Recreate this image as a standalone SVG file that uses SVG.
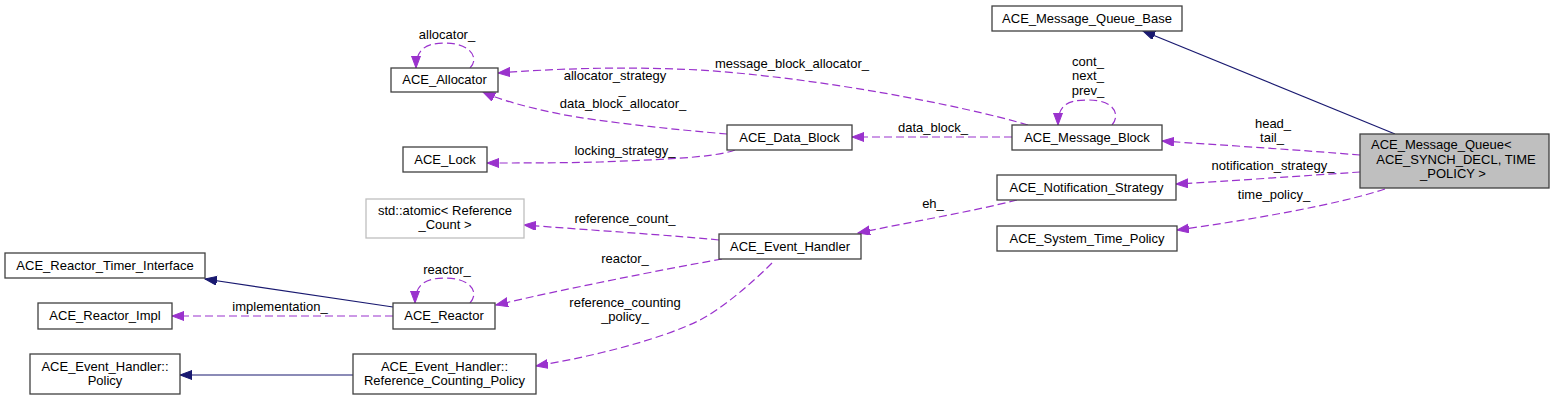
<svg xmlns="http://www.w3.org/2000/svg" width="1555" height="401" viewBox="0 0 1555 401">
<style>
text{font-family:"Liberation Sans",Arial,sans-serif;font-size:13px;fill:#000}
.c{text-anchor:middle}
.n rect{fill:#fff;stroke:#404040;stroke-width:1.3}
.n.g rect{stroke:#bfbfbf}
.n.m rect{fill:#bfbfbf}
.e{fill:none;stroke:#9a32cd;stroke-width:1.2;stroke-dasharray:8,4;marker-end:url(#ap)}
.i{fill:none;stroke:#191970;stroke-width:1.2;marker-end:url(#an)}
</style>
<defs>
<marker id="ap" markerUnits="userSpaceOnUse" markerWidth="13" markerHeight="10" refX="12" refY="4.5" orient="auto" viewBox="0 0 13 10">
<polygon points="0,0 12,4.5 0,9" fill="#9a32cd" stroke="#9a32cd"/>
</marker>
<marker id="an" markerUnits="userSpaceOnUse" markerWidth="13" markerHeight="10" refX="12" refY="4.5" orient="auto" viewBox="0 0 13 10">
<polygon points="0,0 12,4.5 0,9" fill="#191970" stroke="#191970"/>
</marker>
</defs>
<rect width="1555" height="401" fill="#fff"/>
<g id="connectors">
<path class="i" d="M1395,134 L1143,31"/>
<path class="e" d="M1360,155 C1300,150 1220,145 1162,141"/>
<text class="c" x="1273" y="128">head_</text>
<text class="c" x="1272" y="142">tail_</text>
<path class="e" d="M1360,172 C1300,176 1230,181 1176,184"/>
<text class="c" x="1273" y="170">notification_strategy_</text>
<path class="e" d="M1385,189 C1340,204 1250,220 1177,230"/>
<text class="c" x="1274" y="199">time_policy_</text>
<path class="e" d="M1112,125 C1120,116 1116,100 1088,100 C1066,100 1058,106 1058,125"/>
<text class="c" x="1088" y="66">cont_</text>
<text class="c" x="1088" y="80">next_</text>
<text class="c" x="1088" y="95">prev_</text>
<path class="e" d="M1012,137 L852,137"/>
<text class="c" x="933" y="132">data_block_</text>
<path class="e" d="M1028,125 C960,105 820,78 700,70 C620,66 550,69 498,73"/>
<text class="c" x="792" y="68">message_block_allocator_</text>
<path class="e" d="M727,134 C680,130 600,122 560,114 C530,108 500,100 483,92"/>
<text class="c" x="615" y="80">allocator_strategy</text>
<text class="c" x="622" y="94">_</text>
<text class="c" x="623" y="108">data_block_allocator_</text>
<path class="e" d="M735,150 C715,158 650,160 600,162 C560,163 520,163 487,163"/>
<text class="c" x="625" y="155">locking_strategy_</text>
<path class="e" d="M470,68 C480,58 470,43 445,43 C425,43 416,50 416,68"/>
<text class="c" x="447" y="39">allocator_</text>
<path class="e" d="M1017,200 C970,212 910,222 858,233"/>
<text class="c" x="933" y="208">eh_</text>
<path class="e" d="M719,240 C680,236 590,230 524,225"/>
<text class="c" x="625" y="223">reference_count_</text>
<path class="e" d="M722,259 C660,270 560,290 496,305"/>
<text class="c" x="625" y="263">reactor_</text>
<path class="e" d="M772,263 C750,285 720,310 700,320 C660,340 590,357 536,366"/>
<text class="c" x="625" y="307">reference_counting</text>
<text class="c" x="625" y="321">_policy_</text>
<path class="i" d="M393,307 L205,279"/>
<path class="e" d="M393,316 L172,316"/>
<text class="c" x="280" y="311">implementation_</text>
<path class="e" d="M470,303 C480,292 470,278 445,278 C425,278 415,285 415,303"/>
<text class="c" x="447" y="274">reactor_</text>
<path class="i" d="M353,375 L180,375"/>
</g>
<g id="n_mq" class="n m"><rect x="1360" y="134" width="189" height="54"/>
<text x="1371" y="149">ACE_Message_Queue&lt;</text>
<text class="c" x="1456" y="164"> ACE_SYNCH_DECL, TIME</text>
<text class="c" x="1453" y="178">_POLICY &gt;</text></g>
<g id="n_mqb" class="n"><rect x="992" y="6" width="190" height="25"/><text class="c" x="1087" y="23">ACE_Message_Queue_Base</text></g>
<g id="n_mb" class="n"><rect x="1012" y="125" width="150" height="25"/><text class="c" x="1087" y="142">ACE_Message_Block</text></g>
<g id="n_db" class="n"><rect x="727" y="125" width="125" height="25"/><text class="c" x="789.5" y="142">ACE_Data_Block</text></g>
<g id="n_alloc" class="n"><rect x="391" y="68" width="107" height="24"/><text class="c" x="444.5" y="84">ACE_Allocator</text></g>
<g id="n_lock" class="n"><rect x="403" y="147" width="84" height="25"/><text class="c" x="445" y="164">ACE_Lock</text></g>
<g id="n_ns" class="n"><rect x="997" y="175" width="179" height="25"/><text class="c" x="1086.5" y="192">ACE_Notification_Strategy</text></g>
<g id="n_stp" class="n"><rect x="997" y="226" width="180" height="25"/><text class="c" x="1087" y="243">ACE_System_Time_Policy</text></g>
<g id="n_atomic" class="n g"><rect x="366" y="199" width="158" height="39"/>
<text class="c" x="445" y="215">std::atomic&lt; Reference</text>
<text class="c" x="445" y="229">_Count &gt;</text></g>
<g id="n_eh" class="n"><rect x="719" y="234" width="142" height="25"/><text class="c" x="790" y="251">ACE_Event_Handler</text></g>
<g id="n_rti" class="n"><rect x="5" y="253" width="200" height="25"/><text class="c" x="105" y="270">ACE_Reactor_Timer_Interface</text></g>
<g id="n_ri" class="n"><rect x="38" y="303" width="134" height="26"/><text class="c" x="105" y="320">ACE_Reactor_Impl</text></g>
<g id="n_reactor" class="n"><rect x="393" y="303" width="102" height="26"/><text class="c" x="444" y="320">ACE_Reactor</text></g>
<g id="n_pol" class="n"><rect x="30" y="354" width="150" height="40"/>
<text class="c" x="105" y="371">ACE_Event_Handler::</text>
<text class="c" x="105" y="385">Policy</text></g>
<g id="n_rcp" class="n"><rect x="353" y="354" width="183" height="40"/>
<text class="c" x="444.5" y="371">ACE_Event_Handler::</text>
<text class="c" x="444.5" y="385">Reference_Counting_Policy</text></g>
</svg>
